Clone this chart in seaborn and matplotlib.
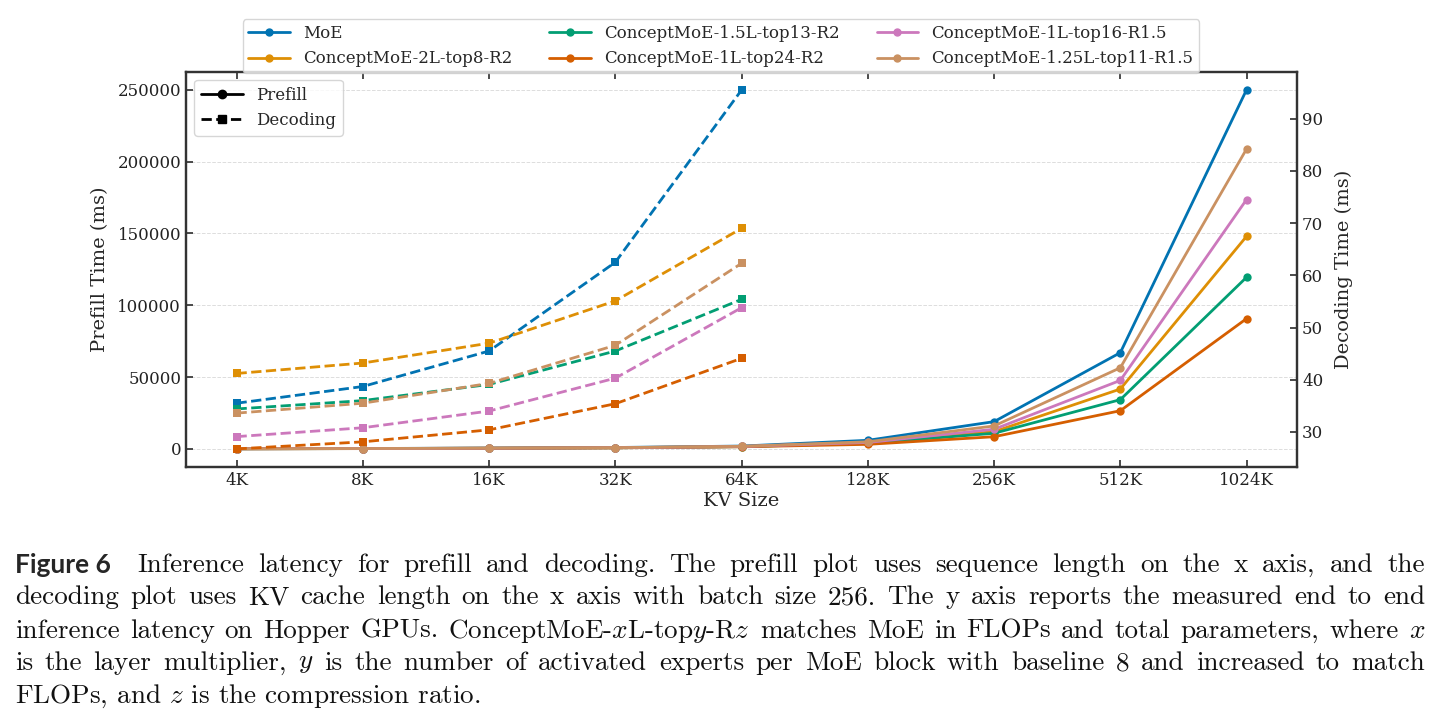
import numpy as np
import pandas as pd
import matplotlib
matplotlib.use("Agg")
import matplotlib.pyplot as plt
from matplotlib.lines import Line2D
import seaborn as sns

# data
kv_sizes = ["4K", "8K", "16K", "32K", "64K", "128K", "256K", "512K", "1024K"]
models = ["MoE", "ConceptMoE-2L-top8-R2", "ConceptMoE-1.5L-top13-R2",
          "ConceptMoE-1L-top24-R2", "ConceptMoE-1L-top16-R1.5",
          "ConceptMoE-1.25L-top11-R1.5"]

# prefill time (ms), all 9 sizes
prefill_moe = [150, 300, 600, 1000, 2000, 6000, 19000, 67000, 250000]
prefill_2l = [120, 260, 520, 850, 1700, 4200, 12000, 41700, 148000]
prefill_15l = [110, 240, 480, 800, 1600, 3900, 10900, 34300, 119500]
prefill_1l24 = [100, 220, 450, 750, 1500, 3200, 8500, 26600, 90700]
prefill_1l16 = [120, 260, 520, 850, 1700, 4500, 13700, 47700, 173600]
prefill_125l = [130, 280, 560, 900, 1800, 5000, 16000, 56500, 208800]

# decoding time (ms), 4K..64K
decode_moe = [35.5, 38.7, 45.5, 62.5, 95.5]
decode_2l = [41.2, 43.2, 47.0, 55.1, 69.0]
decode_15l = [34.4, 36.0, 39.1, 45.5, 55.4]
decode_1l24 = [26.75, 28.1, 30.4, 35.4, 44.1]
decode_1l16 = [29.1, 30.8, 34.0, 40.3, 53.8]
decode_125l = [33.6, 35.5, 39.3, 46.6, 62.3]

prefill = [prefill_moe, prefill_2l, prefill_15l, prefill_1l24, prefill_1l16, prefill_125l]
decode = [decode_moe, decode_2l, decode_15l, decode_1l24, decode_1l16, decode_125l]

rows_p = []
rows_d = []
for m, pv, dv in zip(models, prefill, decode):
    for i, v in enumerate(pv):
        rows_p.append({"model": m, "x": i, "t": v})
    for i, v in enumerate(dv):
        rows_d.append({"model": m, "x": i, "t": v})
df_p = pd.DataFrame(rows_p)
df_d = pd.DataFrame(rows_d)

sns.set_theme(style="ticks")
plt.rcParams["font.family"] = ["DejaVu Serif"]
plt.rcParams["mathtext.fontset"] = "cm"
plt.rcParams["axes.edgecolor"] = "#333333"
plt.rcParams["axes.linewidth"] = 1.6

colors = sns.color_palette("colorblind", 6)
pal = dict(zip(models, colors))

fig = plt.figure(figsize=(14.42, 7.25), dpi=100)
ax1 = fig.add_axes([0.129, 0.356, 0.7705, 0.545])
ax2 = ax1.twinx()

sns.lineplot(data=df_p, x="x", y="t", hue="model", palette=pal, ax=ax1,
             marker="o", markersize=6, markeredgewidth=0, linewidth=2, legend=False)
sns.lineplot(data=df_d, x="x", y="t", hue="model", palette=pal, ax=ax2,
             marker="s", markersize=6, markeredgewidth=0, linewidth=2,
             linestyle="--", legend=False)

ax1.set_xlim(-0.4, 8.4)
ax1.set_xticks(range(len(kv_sizes)))
ax1.set_xticklabels(kv_sizes)
ax1.set_yticks([0, 50000, 100000, 150000, 200000, 250000])
ax1.ticklabel_format(style="plain", axis="y")
ax1.set_ylim(-12500, 262500)
ax2.set_ylim(23.3, 99.0)
ax2.set_yticks([30, 40, 50, 60, 70, 80, 90])

ax1.set_xlabel("KV Size", fontsize=14, labelpad=2)
ax1.set_ylabel("Prefill Time (ms)", fontsize=14, labelpad=6)
ax2.set_ylabel("Decoding Time (ms)", fontsize=14, labelpad=8)

ax1.yaxis.grid(True, linestyle="--", linewidth=0.7, color="#dddddd")
ax1.tick_params(direction="in", top=True, labelsize=12, colors="#333333", length=5)
ax2.tick_params(direction="in", labelsize=12, colors="#333333", length=5)
for lab in ax1.get_xticklabels() + ax1.get_yticklabels() + ax2.get_yticklabels():
    lab.set_color("#222222")

# legends
model_handles = [Line2D([0], [0], color=pal[m], marker="o", markersize=5, lw=2) for m in models]
fig.legend(model_handles, models, loc="upper center", bbox_to_anchor=(0.5, 0.985),
           ncol=3, fontsize=12, frameon=True, handlelength=2.5, columnspacing=2.2,
           borderpad=0.35, labelspacing=0.5, handletextpad=0.8)
style_handles = [Line2D([0], [0], color="black", marker="o", markersize=6, lw=2),
                 Line2D([0], [0], color="black", marker="s", markersize=6, lw=2, ls="--")]
ax2.legend(style_handles, ["Prefill", "Decoding"], loc="upper left", fontsize=12,
           frameon=True, handlelength=2.5, borderpad=0.4)

# caption
cap_lines = [
    "Inference latency for prefill and decoding. The prefill plot uses sequence length on the x axis, and the",
    "decoding plot uses KV cache length on the x axis with batch size 256. The y axis reports the measured end to end",
    "inference latency on Hopper GPUs. ConceptMoE-$x$L-top$y$-R$z$ matches MoE in FLOPs and total parameters, where $x$",
    "is the layer multiplier, $y$ is the number of activated experts per MoE block with baseline 8 and increased to match",
    "FLOPs, and $z$ is the compression ratio.",
]
cap_y = [0.221, 0.176, 0.130, 0.085, 0.040]
cap_x0 = [137, 15, 15, 15, 15]
right_px = 1425
fig.text(15 / 1442, cap_y[0], "Figure 6", fontsize=19, fontweight="bold",
         family=["Lato", "DejaVu Sans"], va="center")

renderer = fig.canvas.get_renderer()


def text_w(s, fs):
    t = fig.text(0, 0, s, fontsize=fs, family=["cmr10"])
    w = t.get_window_extent(renderer).width
    t.remove()
    return w


# pick a size so the widest line fits, then justify lines 1-4
ref_fs = 18
scale = min((right_px - x0) / text_w(line, ref_fs) for line, x0 in zip(cap_lines, cap_x0))
cap_fs = ref_fs * scale * 0.99
for i, (line, y, x0) in enumerate(zip(cap_lines, cap_y, cap_x0)):
    words = line.split(" ")
    if i == len(cap_lines) - 1:
        fig.text(x0 / 1442, y, line, fontsize=cap_fs, family=["cmr10"], va="center", color="#111111")
        continue
    widths = [text_w(wd, cap_fs) for wd in words]
    gap = (right_px - x0 - sum(widths)) / (len(words) - 1)
    x = x0
    for wd, ww in zip(words, widths):
        fig.text(x / 1442, y, wd, fontsize=cap_fs, family=["cmr10"], va="center", color="#111111")
        x += ww + gap

fig.savefig("out.png", dpi=100)
